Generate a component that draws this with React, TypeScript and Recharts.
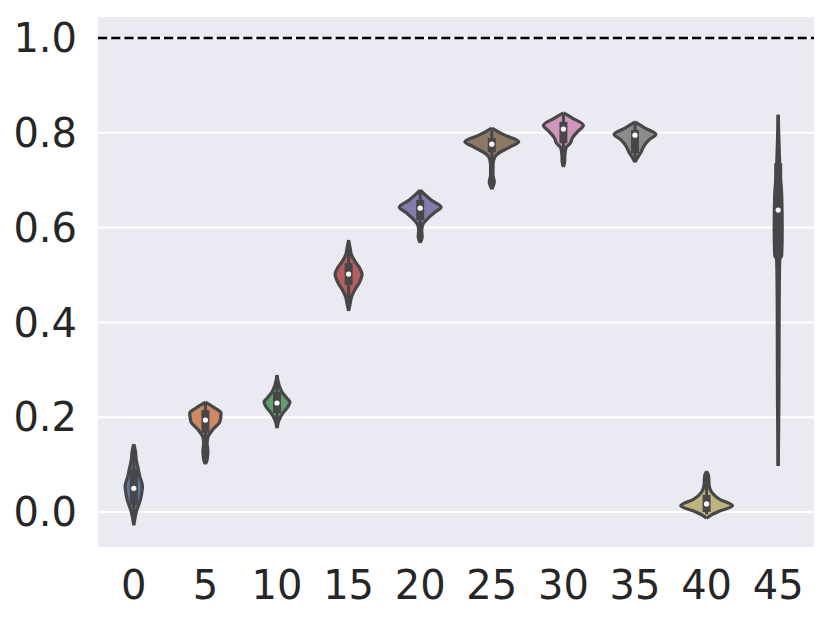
import React from 'react';
import { ComposedChart, Area, Line, XAxis, YAxis, CartesianGrid, ReferenceLine } from 'recharts';

// categories (x tick labels)
const categories = [0, 5, 10, 15, 20, 25, 30, 35, 40, 45];
const yTicks = [0, 0.2, 0.4, 0.6, 0.8, 1.0];

// seaborn "deep" palette, desaturated (0.75)
const colors = ['#5975a4', '#cc8963', '#5f9e6e', '#b55d60', '#857aab', '#8d7866', '#d095bf', '#8c8c8c', '#c1b37f', '#71aec0'];

// violin outlines: [value, half-width as fraction of a category slot]
const violin0: [number, number][] = [[0.143, 0], [0.13, 0.021], [0.11, 0.035], [0.09, 0.063], [0.075, 0.084], [0.055, 0.121], [0.04, 0.111], [0.025, 0.091], [0.01, 0.056], [0.0, 0.035], [-0.015, 0.014], [-0.028, 0]];
const violin5: [number, number][] = [[0.232, 0], [0.219, 0.137], [0.209, 0.219], [0.19, 0.202], [0.175, 0.11], [0.158, 0.035], [0.145, 0.024], [0.128, 0.035], [0.118, 0.03], [0.108, 0.02], [0.101, 0]];
const violin10: [number, number][] = [[0.289, 0], [0.268, 0.028], [0.253, 0.07], [0.24, 0.139], [0.232, 0.181], [0.222, 0.153], [0.209, 0.084], [0.194, 0.028], [0.177, 0]];
const violin15: [number, number][] = [[0.574, 0], [0.557, 0.021], [0.542, 0.042], [0.527, 0.097], [0.515, 0.153], [0.502, 0.188], [0.485, 0.153], [0.468, 0.084], [0.454, 0.042], [0.439, 0.021], [0.424, 0]];
const violin20: [number, number][] = [[0.679, 0], [0.669, 0.07], [0.658, 0.153], [0.643, 0.292], [0.633, 0.209], [0.62, 0.111], [0.608, 0.042], [0.595, 0.021], [0.58, 0.028], [0.568, 0]];
const violin25: [number, number][] = [[0.81, 0], [0.795, 0.181], [0.781, 0.376], [0.77, 0.251], [0.757, 0.097], [0.749, 0.042], [0.732, 0.017], [0.711, 0.017], [0.696, 0.035], [0.681, 0]];
const violin30: [number, number][] = [[0.842, 0], [0.831, 0.125], [0.816, 0.279], [0.802, 0.195], [0.789, 0.125], [0.778, 0.097], [0.768, 0.035], [0.753, 0.021], [0.738, 0.017], [0.728, 0]];
const violin35: [number, number][] = [[0.823, 0], [0.81, 0.139], [0.797, 0.292], [0.785, 0.195], [0.772, 0.125], [0.759, 0.084], [0.749, 0.042], [0.738, 0]];
const violin40: [number, number][] = [[0.086, 0], [0.076, 0.028], [0.057, 0.035], [0.042, 0.07], [0.027, 0.181], [0.013, 0.362], [0.002, 0.181], [-0.006, 0.07], [-0.013, 0]];
const violin45: [number, number][] = [[0.838, 0], [0.764, 0.014], [0.711, 0.028], [0.669, 0.049], [0.595, 0.056], [0.542, 0.049], [0.532, 0.021], [0.447, 0.014], [0.236, 0.01], [0.097, 0]];

const profiles = [violin0, violin5, violin10, violin15, violin20, violin25, violin30, violin35, violin40, violin45];

// inner box statistics
const q1 = [0.015, 0.167, 0.209, 0.479, 0.616, 0.759, 0.778, 0.757, 0.0, 0.538];
const q3 = [0.09, 0.215, 0.253, 0.525, 0.658, 0.789, 0.823, 0.806, 0.036, 0.736];
const medians = [0.05, 0.194, 0.23, 0.502, 0.641, 0.776, 0.808, 0.795, 0.017, 0.637];
const whiskerLo = [-0.02, 0.105, 0.18, 0.43, 0.572, 0.685, 0.732, 0.742, -0.005, 0.1];
const whiskerHi = [0.135, 0.228, 0.285, 0.57, 0.675, 0.805, 0.838, 0.82, 0.082, 0.835];

const GRAY = '#474747';
const FONT = '"DejaVu Sans", sans-serif';

export default function App() {
  const areaData = profiles.map((p, i) =>
    [...p].sort((a, b) => a[0] - b[0]).map(([v, w]) => ({ v, r: [i - w, i + w] }))
  );
  const tick = { fill: '#262626', fontSize: 40, fontFamily: FONT };
  return (
    <div style={{ position: 'absolute', left: 0, top: 0 }}>
      <ComposedChart
        width={830}
        height={622}
        layout="vertical"
        margin={{ top: 16, right: 16, bottom: 0, left: 0 }}
      >
        <CartesianGrid horizontal={true} vertical={false} fill="#eaeaf2" stroke="#ffffff" strokeWidth={2} />
        <XAxis
          type="number"
          domain={[-0.5, 9.5]}
          allowDataOverflow
          ticks={categories.map((_, i) => i)}
          interval={0}
          tickFormatter={(i: number) => String(categories[i])}
          axisLine={false}
          tickLine={false}
          tickSize={0}
          tickMargin={23}
          height={74}
          tick={tick}
        />
        <YAxis
          type="number"
          dataKey="v"
          reversed
          domain={[-0.0759, 1.0464]}
          allowDataOverflow
          ticks={yTicks}
          interval={0}
          tickFormatter={(v: number) => v.toFixed(1)}
          axisLine={false}
          tickLine={false}
          tickSize={0}
          tickMargin={21}
          width={98}
          tick={tick}
        />
        <ReferenceLine y={1} stroke="#000000" strokeWidth={2.5} strokeDasharray="9.2 4" />
        {areaData.map((d, i) => (
          <Area
            key={'a' + i}
            data={d}
            dataKey="r"
            type="monotone"
            fill={colors[i]}
            fillOpacity={1}
            stroke={GRAY}
            strokeWidth={3.2}
            dot={false}
            activeDot={false}
            isAnimationActive={false}
          />
        ))}
        {categories.map((_, i) => (
          <Line
            key={'w' + i}
            data={[{ v: whiskerLo[i], c: i }, { v: whiskerHi[i], c: i }]}
            dataKey="c"
            stroke={GRAY}
            strokeWidth={3}
            dot={false}
            activeDot={false}
            isAnimationActive={false}
          />
        ))}
        {categories.map((_, i) => (
          <Line
            key={'b' + i}
            data={[{ v: q1[i], c: i }, { v: q3[i], c: i }]}
            dataKey="c"
            stroke={GRAY}
            strokeWidth={8}
            dot={false}
            activeDot={false}
            isAnimationActive={false}
          />
        ))}
        {categories.map((_, i) => (
          <Line
            key={'m' + i}
            data={[{ v: medians[i], c: i }]}
            dataKey="c"
            stroke="none"
            dot={{ r: 2.6, fill: '#ffffff', stroke: 'none' }}
            activeDot={false}
            isAnimationActive={false}
          />
        ))}
      </ComposedChart>
    </div>
  );
}
